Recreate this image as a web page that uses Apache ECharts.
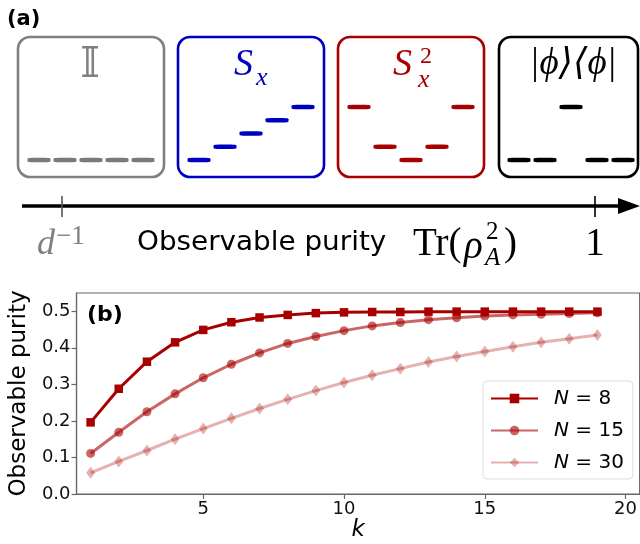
<!DOCTYPE html>
<html><head><meta charset="utf-8">
<script src="https://cdn.jsdelivr.net/npm/echarts@6/dist/echarts.min.js"></script>
<style>html,body{margin:0;padding:0;background:#fff}#c{width:640px;height:544px}</style>
</head><body><div id="c"></div>
<script>
// ---------- data: panel (b) ----------
const K = [1,2,3,4,5,6,7,8,9,10,11,12,13,14,15,16,17,18,19];
const N8  = [0.196,0.288,0.362,0.415,0.449,0.470,0.483,0.490,0.495,0.497,0.498,0.498,0.499,0.499,0.499,0.499,0.499,0.499,0.499];
const N15 = [0.111,0.169,0.225,0.274,0.318,0.355,0.386,0.412,0.431,0.447,0.460,0.469,0.477,0.482,0.487,0.490,0.492,0.494,0.496];
const N30 = [0.058,0.089,0.119,0.150,0.179,0.207,0.234,0.259,0.283,0.305,0.325,0.343,0.361,0.376,0.390,0.403,0.415,0.425,0.435];
const SERIES_NAMES = ['N = 8','N = 15','N = 30'];
const X_TICKS = [5,10,15,20];
const Y_TICKS = [0,0.1,0.2,0.3,0.4,0.5];

// ---------- data: panel (a) spectra (level heights, slots 0..4) ----------
const LEVELS_I    = [0,0,0,0,0];
const LEVELS_SX   = [0,1,2,3,4];
const LEVELS_SX2  = [4,1,0,1,4];
const LEVELS_PROJ = [0,0,4,0,0];

// ---------- layout constants ----------
const BOX_CENTERS = [91, 251, 411, 571];
const SLOT_PITCH = 26;
const RED = '#a80000';
const SANS = '"DejaVu Sans", sans-serif';
const SERIF = '"Liberation Serif", "DejaVu Serif", serif';

function levelData(levels, boxIdx){
  return levels.map((v,j)=>[BOX_CENTERS[boxIdx] + (j-2)*SLOT_PITCH, v]);
}

function txt(x,y,text,font,fill,align,extra){
  align = align || 'left';
  const el = {type:'text', x:x, y:y, silent:true,
    style:{text:text, font:font, fill:fill, textAlign:align, align:align, textVerticalAlign:'middle', verticalAlign:'middle'}};
  return Object.assign(el, extra || {});
}
function box(x,w,color){
  return {type:'rect', silent:true, shape:{x:x, y:37, width:w, height:140, r:12},
    style:{fill:'none', stroke:color, lineWidth:2.6}};
}
function ln(x1,y1,x2,y2,color,w){
  return {type:'line', silent:true, shape:{x1:x1,y1:y1,x2:x2,y2:y2}, style:{stroke:color, lineWidth:w}};
}

const graphics = [
  txt(7, 20, '(a)', 'bold 21px ' + SANS, '#000'),
  box(18, 146, '#808080'),
  box(178, 146, '#0000c0'),
  box(338, 146, RED),
  box(499, 139, '#000'),
  txt(90, 66, '\u{1D540}', '42px "DejaVu Serif", "DejaVu Sans"', '#808080', 'center'),
  txt(234, 65, 'S', 'italic 38px ' + SERIF, '#0000c0'),
  txt(256, 78, 'x', 'italic 26px ' + SERIF, '#0000c0'),
  txt(393, 65, 'S', 'italic 38px ' + SERIF, RED),
  txt(420, 57, '2', '24px ' + SERIF, RED),
  txt(418, 80, 'x', 'italic 26px ' + SERIF, RED),
  txt(573, 64, '|\u03D5\u27E9\u27E8\u03D5|', 'italic 37px ' + SERIF, '#000', 'center'),
  // purity axis
  ln(22, 206, 624, 206, '#000', 3.5),
  {type:'polygon', silent:true, shape:{points:[[618,198],[640,206],[618,214]]}, style:{fill:'#000'}},
  ln(62, 196, 62, 217, '#555', 1.6),
  ln(595, 196, 595, 217, '#000', 1.6),
  txt(37, 245, 'd', 'italic 36px ' + SERIF, '#808080'),
  txt(56, 237, '\u22121', '27px ' + SERIF, '#808080'),
  txt(137, 243, 'Observable purity', '26px ' + SANS, '#000', 'left', {scaleX:1.07}),
  txt(413, 245, 'Tr(', '39px ' + SERIF, '#000'),
  txt(464, 248, '\u03C1', 'italic 39px ' + SERIF, '#000'),
  txt(486, 232, '2', '25px ' + SERIF, '#000'),
  txt(485, 258, 'A', 'italic 25px ' + SERIF, '#000'),
  txt(504, 245, ')', '39px ' + SERIF, '#000'),
  txt(595, 245, '1', '39px ' + SERIF, '#000', 'center'),
  // (b) label
  txt(87, 315, '(b)', 'bold 22px ' + SANS, '#000')
];

const chart = echarts.init(document.getElementById('c'), null, {renderer:'canvas'});

function lineSeries(name, data, symbol, size, opacity){
  return {
    name: name, type:'line', xAxisIndex:0, yAxisIndex:0,
    data: K.map((k,i)=>[k, data[i]]),
    symbol: symbol, symbolSize: size, showSymbol:true,
    lineStyle:{color:RED, width:3, opacity:opacity},
    itemStyle:{color:RED, opacity:opacity, borderWidth:0},
    emphasis:{disabled:true}, animation:false
  };
}
function levelSeries(levels, boxIdx, color){
  return {
    type:'scatter', xAxisIndex:1, yAxisIndex:1, silent:true, animation:false,
    data: levelData(levels, boxIdx),
    symbol:'roundRect', symbolSize:[23,4.5],
    itemStyle:{color:color, opacity:1}
  };
}

const option = {
  backgroundColor:'#fff',
  animation:false,
  textStyle:{fontFamily:SANS},
  grid:[
    {left:76, top:293, width:565, height:201, show:true, borderColor:'#666', borderWidth:1.2, containLabel:false},
    {left:0, top:107, width:640, height:53, show:false}
  ],
  xAxis:[
    {type:'value', gridIndex:0, min:0.5, max:20.5,
     name:'k', nameLocation:'middle', nameGap:21,
     nameTextStyle:{fontStyle:'italic', fontSize:23, color:'#000', fontFamily:SANS},
     axisLine:{onZero:false, lineStyle:{color:'#666', width:1.2}},
     axisTick:{show:true, length:5, customValues:X_TICKS, lineStyle:{color:'#666', width:1.2}},
     axisLabel:{customValues:X_TICKS, fontSize:18, color:'#111', margin:6, fontFamily:SANS},
     splitLine:{show:false}},
    {type:'value', gridIndex:1, min:0, max:640, show:false}
  ],
  yAxis:[
    {type:'value', gridIndex:0, min:0, max:0.55,
     name:'Observable purity', nameLocation:'middle', nameGap:39, nameRotate:90,
     nameTextStyle:{fontSize:23, color:'#000', fontFamily:SANS},
     axisLine:{show:true, onZero:false, lineStyle:{color:'#666', width:1.2}},
     axisTick:{show:true, length:5, customValues:Y_TICKS, lineStyle:{color:'#666', width:1.2}},
     axisLabel:{customValues:Y_TICKS, fontSize:18, color:'#111', margin:6, fontFamily:SANS,
       formatter:(v)=>v.toFixed(1)},
     splitLine:{show:false}},
    {type:'value', gridIndex:1, min:0, max:4, show:false}
  ],
  legend:{
    data:SERIES_NAMES, left:483, top:381, orient:'vertical',
    itemWidth:47, itemHeight:12, itemGap:11,
    padding:[7,9,6,7],
    backgroundColor:'#fff', borderColor:'#ddd', borderWidth:1, borderRadius:4,
    textStyle:{fontSize:20, color:'#000', padding:[0,0,0,11], lineHeight:21, fontFamily:SANS,
      rich:{i:{fontStyle:'italic', fontSize:20, fontFamily:SANS, color:'#000'}, n:{fontSize:20, fontFamily:SANS, color:'#000'}}},
    formatter:(name)=>'{i|N}{n|' + name.slice(1) + '}',
    selectedMode:false
  },
  series:[
    lineSeries(SERIES_NAMES[0], N8, 'rect', 8.5, 1),
    lineSeries(SERIES_NAMES[1], N15, 'circle', 9, 0.6),
    lineSeries(SERIES_NAMES[2], N30, 'diamond', [9,12], 0.3),
    levelSeries(LEVELS_I, 0, '#7a7a7a'),
    levelSeries(LEVELS_SX, 1, '#0000c0'),
    levelSeries(LEVELS_SX2, 2, RED),
    levelSeries(LEVELS_PROJ, 3, '#000')
  ],
  graphic: graphics
};
chart.setOption(option);
</script></body></html>
